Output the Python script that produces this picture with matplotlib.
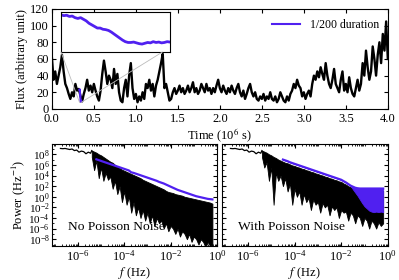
import numpy as np
import matplotlib
matplotlib.use("Agg")
import matplotlib.pyplot as plt
from matplotlib.patches import ConnectionPatch
from matplotlib.ticker import FixedLocator, LogLocator, NullFormatter

plt.rcParams['font.family'] = ['Liberation Serif', 'DejaVu Serif']
plt.rcParams['mathtext.fontset'] = 'stix'
plt.rcParams['font.size'] = 9

BLUE = '#5020f0'

# ---------------- light curve (flux vs time, 10^6 s) ----------------
flux = [62, 35, 45, 30, 40, 50, 65, 45, 30, 25, 18, 12, 20, 15, 30, 22, 24, 16, 9, 18,
        25, 35, 22, 28, 20, 30, 22, 15, 10, 22, 42, 58, 45, 30, 40, 35, 25, 48, 30, 42,
        20, 10, 8, 25, 35, 15, 40, 55, 25, 12, 18, 8, 15, 10, 20, 12, 30, 25, 35, 22,
        30, 15, 28, 35, 45, 55, 66, 25, 30, 20, 10, 12, 20, 25, 18, 22, 28, 20, 25, 18,
        22, 28, 20, 25, 32, 20, 25, 18, 22, 30, 25, 20, 30, 22, 25, 18, 25, 20, 28, 35,
        25, 20, 28, 22, 18, 25, 20, 28, 22, 18, 25, 30, 20, 15, 22, 12, 18, 25, 30, 20,
        15, 20, 12, 10, 15, 12, 18, 10, 15, 12, 20, 12, 10, 15, 8, 12, 20, 15, 10, 8,
        15, 10, 18, 22, 30, 25, 35, 28, 25, 15, 20, 12, 18, 22, 15, 30, 40, 35, 45, 38,
        50, 42, 35, 55, 40, 30, 25, 35, 48, 30, 25, 20, 35, 45, 22, 30, 20, 38, 25, 18,
        15, 25, 35, 22, 30, 55, 40, 70, 50, 35, 45, 75, 60, 40, 65, 80, 55, 90, 70, 105,
        60]
time = np.linspace(0.0, 4.0, len(flux))

# 1/200 duration segment
seg_start, seg_end = 0.33, 0.35
seg_flux = [23.2, 22.8, 23.0, 22.4, 22.6, 21.8, 21.4, 21.8, 21.0, 20.2,
            19.0, 18.2, 17.4, 16.6, 16.6, 16.0, 15.8, 15.4, 14.6, 13.6,
            12.6, 11.6, 10.6, 9.8, 9.4, 9.4, 9.6, 9.2, 8.8, 8.6,
            9.0, 9.4, 9.2, 9.8, 9.4, 9.6, 9.2, 9.4, 9.8, 9.6]
seg_time = np.linspace(seg_start, seg_end, len(seg_flux))

# ---------------- power spectra (log10 values) ----------------
# low-frequency single line (both panels)
lf_logf = [-6.75, -6.65, -6.55, -6.45, -6.35, -6.25, -6.15, -6.05, -5.95, -5.85,
           -5.75, -5.65, -5.55, -5.45, -5.4]
lf_logp = [9.1, 9.05, 9.1, 9.0, 8.9, 9.0, 8.7, 8.8, 8.4, 8.6,
           8.5, 8.1, 8.4, 8.2, 8.7]

band_logf = np.round(np.arange(-5.4, -0.15, 0.1), 2)

# no Poisson noise: black band envelope
nopn_hi = [8.7, 8.5, 8.3, 8.0, 7.8, 7.5, 7.2, 6.9, 6.6, 6.4, 6.0, 5.7, 5.4, 5.1, 4.9,
           4.7, 4.5, 4.3, 4.1, 3.9, 3.7, 3.5, 3.2, 3.0, 2.8, 2.6, 2.4, 2.2, 2.0, 1.8,
           1.6, 1.4, 1.1, 0.9, 0.8, 0.7, 0.5, 0.4, 0.3, 0.2, 0.0, -0.1, -0.2, -0.3,
           -0.4, -0.5, -0.6, -0.7, -0.8, -0.9, -1.0, -1.1, -1.3]
nopn_lo = [7.5, 5.0, 6.8, 3.5, 5.5, 3.0, 4.5, 3.2, 3.8, 1.5, 3.0, 0.5, 2.0, -1.0, 1.0,
           -1.5, 0.0, -3.0, -1.0, -3.5, -2.0, -4.0, -2.5, -4.5, -3.0, -5.0, -3.5, -5.5,
           -4.0, -5.0, -4.5, -6.0, -5.0, -6.5, -5.5, -6.0, -7.0, -6.0, -7.5, -6.5, -7.0,
           -8.0, -7.0, -8.5, -7.5, -8.0, -9.0, -8.0, -8.5, -9.5, -8.5, -9.3, -9.0]

# with Poisson noise: black band envelope
pn_hi = [8.7, 8.5, 8.3, 8.0, 7.8, 7.5, 7.3, 7.0, 6.8, 6.6, 6.4, 6.3, 6.1, 5.9, 5.8,
         5.6, 5.5, 5.3, 5.2, 5.0, 4.9, 4.7, 4.6, 4.4, 4.3, 4.1, 4.0, 3.8, 3.7, 3.5,
         3.4, 3.2, 3.1, 2.9, 2.8, 2.5, 2.3, 2.0, 1.8, 1.6, 1.5, 1.4, 1.3, 1.3, 1.2,
         1.2, 1.2, 1.1, 1.1, 1.1, 1.1, 1.1, 1.1]
pn_lo = [7.5, 5.5, 6.5, 3.0, 5.5, -1.5, 4.5, 3.0, 4.0, 2.0, 3.5, 1.0, 2.5, -1.5, 1.5,
         0.0, 1.0, -1.5, 0.5, -1.0, -0.2, -2.5, -0.5, -1.5, -1.0, -3.0, -1.2, -2.0,
         -1.5, -3.5, -1.8, -2.5, -2.0, -4.0, -2.5, -3.0, -2.8, -4.5, -3.0, -3.5, -5.0,
         -3.5, -4.0, -5.5, -4.0, -4.5, -6.0, -4.5, -5.0, -6.0, -4.8, -5.5, -5.0]

# 1/200 duration spectra (blue)
blue_nopn_logf = np.round(np.arange(-5.2, -0.15, 0.1), 2)
blue_nopn = [7.05, 6.9, 6.75, 6.6, 6.45, 6.3, 6.15, 6.0, 5.85, 5.7, 5.55, 5.4, 5.25,
             5.1, 4.95, 4.6, 4.5, 4.35, 4.2, 4.05, 3.9, 3.75, 3.6, 3.45, 3.3, 3.15,
             3.0, 2.8, 2.65, 2.5, 2.3, 2.1, 1.9, 1.7, 1.5, 1.3, 1.15, 1.0, 0.85, 0.7,
             0.55, 0.4, 0.25, 0.1, 0.0, -0.1, -0.2, -0.3, -0.4, -0.45, -0.5]

blue_pn_logf = np.round(np.arange(-4.5, -0.15, 0.1), 2)
blue_pn_hi = [7.0, 6.85, 6.7, 6.5, 6.35, 6.2, 6.05, 5.9, 5.75, 5.6, 5.45, 5.3, 5.15,
              5.0, 4.85, 4.7, 4.55, 4.4, 4.25, 4.1, 3.95, 3.8, 3.65, 3.5, 3.35, 3.2,
              2.95, 2.7, 2.4, 2.1, 1.9, 1.7, 1.6, 1.55, 1.55, 1.55, 1.55, 1.55, 1.55,
              1.55, 1.55, 1.55, 1.55, 1.55]
blue_pn_lo = [7.0, 6.85, 6.7, 6.5, 6.35, 6.2, 6.05, 5.9, 5.75, 5.6, 5.45, 5.3, 5.15,
              5.0, 4.85, 4.7, 4.55, 4.4, 4.25, 4.1, 3.95, 3.8, 3.65, 3.5, 3.35, 3.2,
              2.95, 2.7, 2.4, 2.1, 1.4, 0.8, 0.2, -0.5, -1.2, -1.8, -2.2, -2.6, -2.8,
              -2.9, -2.8, -2.9, -2.8, -2.9]

p10 = lambda a: np.power(10.0, np.asarray(a, dtype=float))

fig = plt.figure(figsize=(3.99, 2.80), dpi=100)
ax = fig.add_axes([0.130, 0.611, 0.842, 0.357])
ax_l = fig.add_axes([0.130, 0.121, 0.414, 0.364])
ax_r = fig.add_axes([0.556, 0.121, 0.416, 0.364], sharey=ax_l)

# ---- top panel ----
ax.plot(time, flux, color='black', lw=1.7)
ax.plot(seg_time, seg_flux, color=BLUE, lw=1.5, label='1/200 duration')
ax.set_xlim(0, 4)
ax.set_ylim(0, 120)
ax.set_xticks(np.arange(0, 4.01, 0.5))
ax.set_yticks(np.arange(0, 121, 20))
ax.set_xlabel('Time (10$^6$ s)', labelpad=1)
ax.set_ylabel('Flux (arbitrary unit)', labelpad=2)
ax.tick_params(direction='in', top=True, right=True, length=3, pad=2)
ax.tick_params(axis='x', pad=3)
ax.legend(loc='upper right', frameon=False, handlelength=2.4, fontsize=8.5,
          bbox_to_anchor=(0.995, 0.97), borderaxespad=0.2)

ins = fig.add_axes([0.153, 0.814, 0.273, 0.143])
ins.plot(seg_time, seg_flux, color=BLUE, lw=2.0)
ins.set_xlim(seg_start, seg_end)
ins.set_ylim(4.6, 24.6)
ins.set_xticks([])
ins.set_yticks([])
for corner, target in [((0, 0), (seg_start, seg_flux[-1] - 2)),
                       ((0.93, 0), (seg_end - 0.005, seg_flux[-1] - 2))]:
    cp = ConnectionPatch(xyA=corner, coordsA=ins.transAxes, xyB=target, coordsB=ax.transData,
                         color='#bbbbbb', lw=0.6)
    fig.add_artist(cp)

# ---- power spectra ----
for a, hi, lo, label in [(ax_l, nopn_hi, nopn_lo, 'No Poisson Noise'),
                         (ax_r, pn_hi, pn_lo, 'With Poisson Noise')]:
    a.plot(p10(lf_logf), p10(lf_logp), color='black', lw=0.9)
    a.fill_between(p10(band_logf), p10(lo), p10(hi), color='black', lw=0.6, edgecolor='black')
    a.set_xscale('log')
    a.set_yscale('log')
    a.set_xlim(10 ** -7.12, 1.0)
    a.set_ylim(10 ** -9.3, 10 ** 9.9)
    a.xaxis.set_major_locator(FixedLocator([1e-6, 1e-4, 1e-2, 1e0]))
    a.xaxis.set_minor_locator(LogLocator(base=10, subs=np.arange(1, 10), numticks=50))
    a.xaxis.set_minor_formatter(NullFormatter())
    a.yaxis.set_major_locator(FixedLocator([10.0 ** k for k in range(-8, 9, 2)]))
    a.yaxis.set_minor_locator(FixedLocator([10.0 ** k for k in range(-9, 10, 2)]))
    a.yaxis.set_minor_formatter(NullFormatter())
    a.tick_params(which='both', direction='in', top=True, right=True, pad=2)
    a.tick_params(which='major', length=3)
    a.tick_params(which='minor', length=1.5)
    a.tick_params(axis='y', labelsize=8, pad=1.5)
    a.set_xlabel('$f$ (Hz)', labelpad=1)
    a.text(0.10, 0.16, label, transform=a.transAxes, fontsize=9.7)

ax_l.plot(p10(blue_nopn_logf), p10(blue_nopn), color=BLUE, lw=1.6)
ax_r.fill_between(p10(blue_pn_logf), p10(blue_pn_lo), p10(blue_pn_hi), color=BLUE, lw=0.6)
ax_r.plot(p10(blue_pn_logf), p10(blue_pn_hi), color=BLUE, lw=1.6)

ax_l.set_ylabel('Power (Hz$^{-1}$)', labelpad=1)
plt.setp(ax_r.get_yticklabels(), visible=False)

fig.savefig('out.png', dpi=100)
